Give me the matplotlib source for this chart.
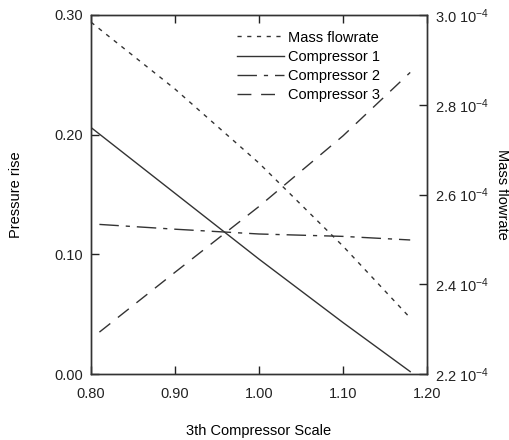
import matplotlib
matplotlib.use("Agg")
import matplotlib.pyplot as plt

plt.rcParams['font.family'] = ['Liberation Sans', 'DejaVu Sans']
plt.rcParams['font.size'] = 10.5
plt.rcParams['mathtext.fontset'] = 'custom'
plt.rcParams['mathtext.rm'] = 'Liberation Sans'
plt.rcParams['mathtext.it'] = 'Liberation Sans'

# data
scale_c1 = [0.80, 0.90, 1.00, 1.10, 1.18]
comp1 = [0.206, 0.151, 0.096, 0.043, 0.002]
scale_c23 = [0.81, 0.90, 1.00, 1.10, 1.18]
comp2 = [0.125, 0.121, 0.117, 0.115, 0.112]
comp3 = [0.035, 0.085, 0.140, 0.199, 0.252]
scale_mf = [0.80, 0.90, 1.00, 1.10, 1.18]
mass_flow = [2.984e-4, 2.835e-4, 2.67e-4, 2.485e-4, 2.325e-4]

right_ticks = [2.2e-4, 2.4e-4, 2.6e-4, 2.8e-4, 3.0e-4]
right_labels = ["2.2 10$^{-4}$", "2.4 10$^{-4}$", "2.6 10$^{-4}$", "2.8 10$^{-4}$", "3.0 10$^{-4}$"]

fig = plt.figure(figsize=(5.1, 4.4), dpi=100)
ax = fig.add_axes([91/510, 66/440, 336/510, 359/440])
ax2 = ax.twinx()

lc = '#333333'
l_mf, = ax2.plot(scale_mf, mass_flow, color=lc, lw=1.0, dashes=(3, 4))
l1, = ax.plot(scale_c1, comp1, color=lc, lw=1.0, linestyle='-')
l2, = ax.plot(scale_c23, comp2, color=lc, lw=1.0, dashes=(14, 5, 3, 5))
l3, = ax.plot(scale_c23, comp3, color=lc, lw=1.0, dashes=(10, 7))

ax.set_xlim(0.80, 1.20)
ax.set_ylim(0.0, 0.30)
ax2.set_ylim(2.2e-4, 3.0e-4)
ax.set_xticks([0.80, 0.90, 1.00, 1.10, 1.20])
ax.set_xticklabels(["0.80", "0.90", "1.00", "1.10", "1.20"])
ax.set_yticks([0.0, 0.10, 0.20, 0.30])
ax.set_yticklabels(["0.00", "0.10", "0.20", "0.30"])
ax2.set_yticks(right_ticks)
ax2.set_yticklabels(right_labels)

ax.tick_params(direction='in', top=True, length=6, width=1.0, colors='#222222')
ax.tick_params(axis='x', pad=9)
ax.tick_params(axis='y', pad=6)
ax2.tick_params(direction='in', length=6, width=1.0, colors='#222222', pad=6)
for a in (ax, ax2):
    for s in a.spines.values():
        s.set_color('#333333')
        s.set_linewidth(1.0)

ax.set_xlabel("3th Compressor Scale", labelpad=17)
ax.set_ylabel("Pressure rise", labelpad=22)
ax2.set_ylabel("Mass flowrate", rotation=-90, labelpad=14)

ax.legend([l_mf, l1, l2, l3], ["Mass flowrate", "Compressor 1", "Compressor 2", "Compressor 3"],
          loc='upper left', bbox_to_anchor=(0.405, 0.985), frameon=False,
          handlelength=3.2, handletextpad=0.3, labelspacing=0.35, borderpad=0.2)

fig.savefig("out.png", dpi=100)
